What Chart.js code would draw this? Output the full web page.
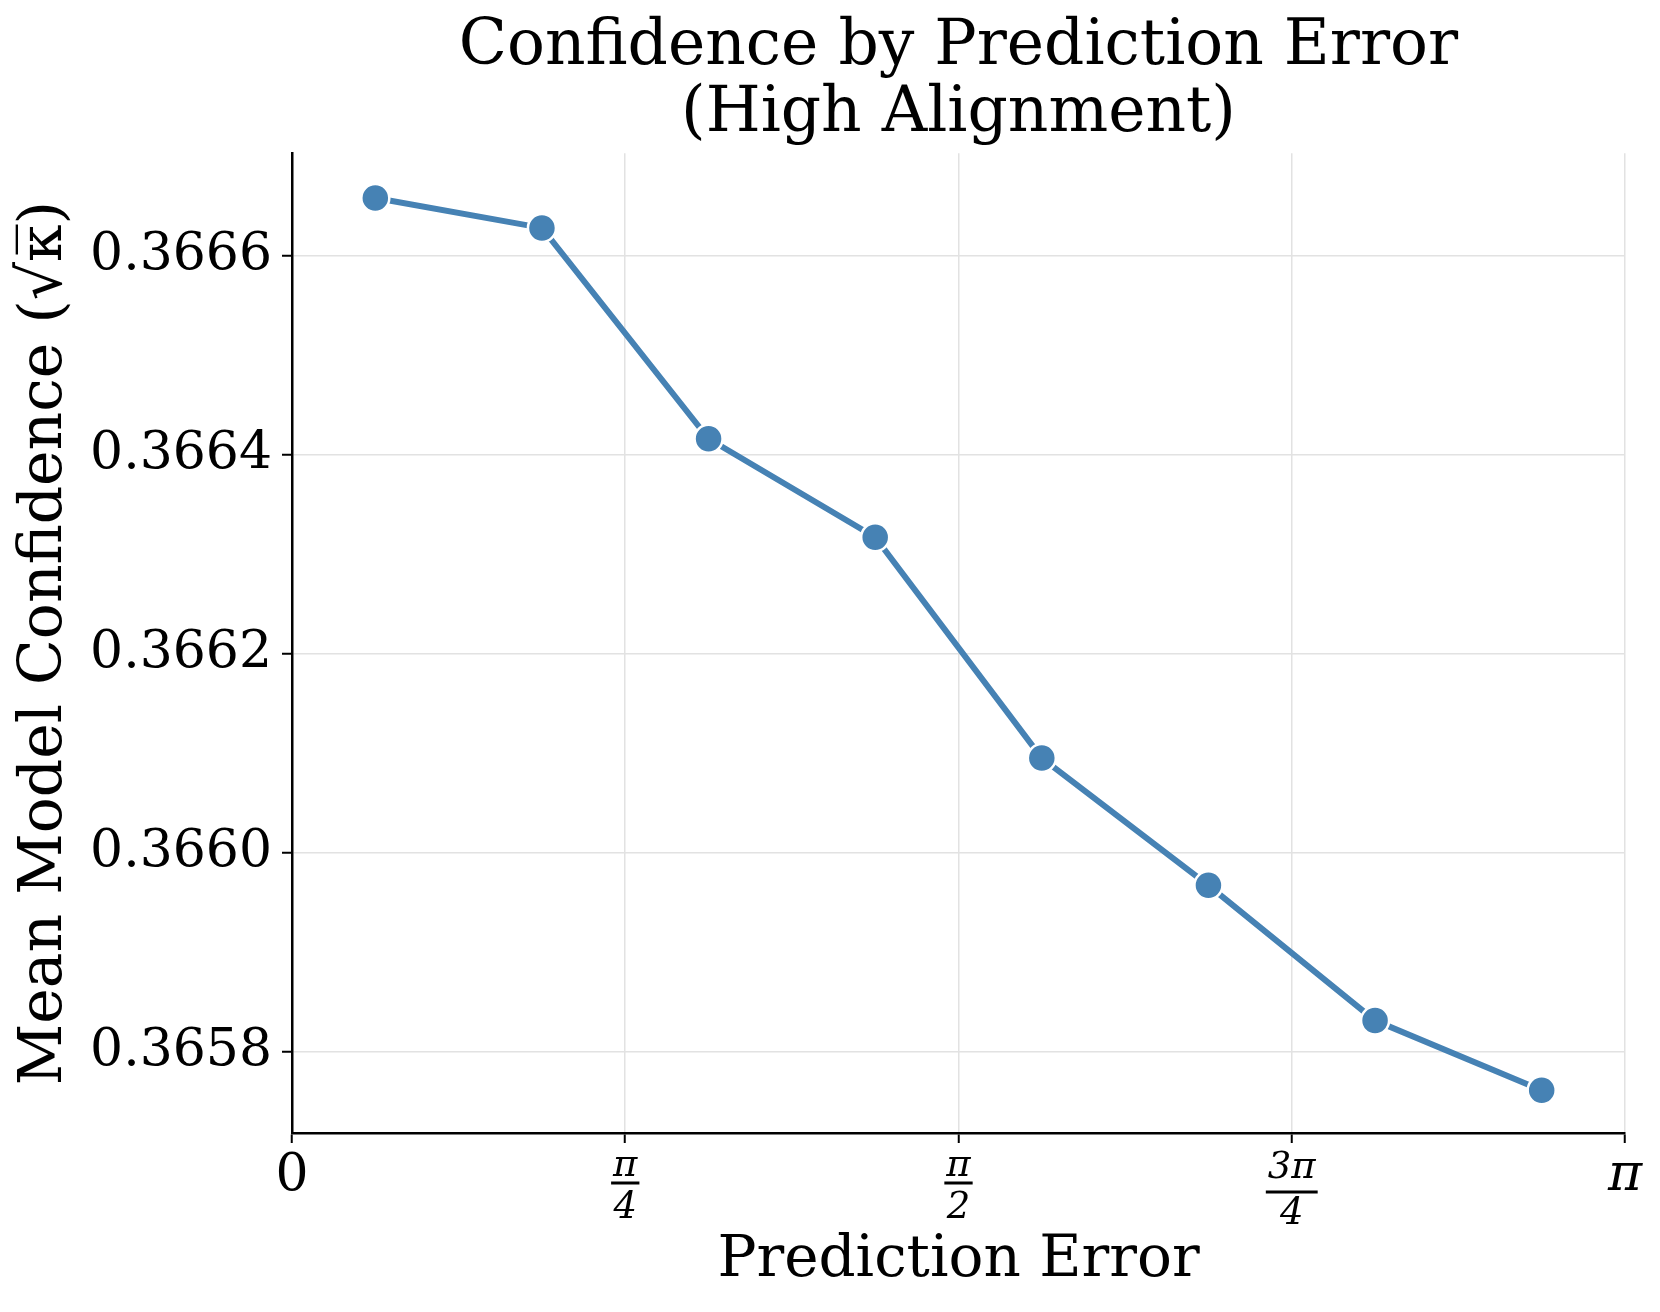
<!DOCTYPE html>
<html><head><meta charset="utf-8">
<script src="https://cdn.jsdelivr.net/npm/chart.js@4/dist/chart.umd.min.js"></script>
<style>html,body{margin:0;padding:0;background:#fff}#wrap{width:1660px;height:1312px}</style>
</head><body><div id="wrap"><canvas id="c" width="1660" height="1312"></canvas></div>
<script>
// ---- data ----
const titleLines = ['Confidence by Prediction Error', '(High Alignment)'];
const xAxisTitle = 'Prediction Error';
const yAxisTitle = 'Mean Model Confidence (\u221A\u03BA\u0305)';
const errorBins = [0.19635, 0.58905, 0.98175, 1.37445, 1.76715, 2.15984, 2.55254, 2.94524];
const confidence = [0.366658, 0.366628, 0.366416, 0.366317, 0.366095, 0.365967, 0.365831, 0.365761];
const xTickValues = [0, 0.785398, 1.570796, 2.356194, 3.141593];
const xTickLabels = ['0', ['\u03C0', '4'], ['\u03C0', '2'], ['3\u03C0', '4'], '\u03C0'];
const yTickValues = [0.3658, 0.3660, 0.3662, 0.3664, 0.3666];
const yTickLabels = ['0.3658', '0.3660', '0.3662', '0.3664', '0.3666'];
const xRange = [0, 3.141593];
const yRange = [0.365718, 0.366703];

// ---- style ----
const FAM = "'DejaVu Serif', serif";
const LINE = '#4682b4';

const fractionBars = {
  id: 'fractionBars',
  afterDraw(chart) {
    const s = chart.scales.x, ctx = chart.ctx;
    ctx.save();
    ctx.strokeStyle = '#000';
    ctx.lineWidth = 3;
    xTickLabels.forEach((lab, i) => {
      if (!Array.isArray(lab)) return;
      const x = s.getPixelForValue(xTickValues[i]);
      ctx.font = 'italic 37px ' + FAM;
      const w = ctx.measureText(lab[0]).width + 4;
      const y = s.top + (lab[0].length > 1 ? 59 : 50);
      ctx.beginPath();
      ctx.moveTo(x - w / 2, y);
      ctx.lineTo(x + w / 2, y);
      ctx.stroke();
    });
    ctx.restore();
  }
};

const titleOnPlot = {
  id: 'titleOnPlot',
  afterLayout(chart) {
    const t = chart.titleBlock;
    if (t) {
      t.left = chart.chartArea.left;
      t.right = chart.chartArea.right;
      t.width = t.right - t.left;
    }
  }
};

new Chart(document.getElementById('c'), {
  type: 'line',
  data: {
    datasets: [{
      data: errorBins.map((x, i) => ({ x: x, y: confidence[i] })),
      borderColor: LINE,
      backgroundColor: LINE,
      borderWidth: 6,
      pointRadius: 14,
      pointBackgroundColor: LINE,
      pointBorderColor: '#fff',
      pointBorderWidth: 2.5,
      tension: 0,
      fill: false
    }]
  },
  plugins: [fractionBars, titleOnPlot],
  options: {
    responsive: false,
    devicePixelRatio: 1,
    animation: false,
    layout: { padding: { left: 0, right: 35, top: 0, bottom: 0 } },
    plugins: {
      legend: { display: false },
      tooltip: { enabled: false },
      title: {
        display: true,
        text: titleLines,
        color: '#000',
        font: { family: FAM, size: 63, weight: 'normal', lineHeight: 1.05 },
        padding: { top: 15, bottom: 6 }
      }
    },
    scales: {
      x: {
        type: 'linear',
        min: xRange[0], max: xRange[1],
        afterBuildTicks: s => { s.ticks = xTickValues.map(v => ({ value: v })); },
        afterFit: s => { s.height = 179; },
        ticks: {
          autoSkip: false, maxRotation: 0, color: '#000', padding: 2,
          callback: (v, i) => xTickLabels[i],
          font: ctx => {
            const lab = xTickLabels[ctx.index];
            if (Array.isArray(lab)) return { family: FAM, size: 37, style: 'italic', lineHeight: (lab[0].length > 1 ? 46 : 42) / 37 };
            if (lab === '0') return { family: FAM, size: 52, lineHeight: 1.2 };
            return { family: FAM, size: 52, style: 'italic', lineHeight: 1.2 };
          }
        },
        grid: { color: '#e2e2e2', lineWidth: 1.5, tickColor: '#000', tickLength: 10, tickWidth: 2 },
        border: { color: '#000', width: 2.5 },
        title: { display: true, text: xAxisTitle, color: '#000', font: { family: FAM, size: 58, lineHeight: 1.2 }, padding: { top: 0, bottom: 16 } }
      },
      y: {
        type: 'linear',
        min: yRange[0], max: yRange[1],
        afterBuildTicks: s => { s.ticks = yTickValues.map(v => ({ value: v })); },
        afterFit: s => { s.width = 292; },
        ticks: {
          color: '#000', padding: 10,
          callback: (v, i) => yTickLabels[i],
          font: { family: FAM, size: 52 }
        },
        grid: { color: '#e2e2e2', lineWidth: 1.5, tickColor: '#000', tickLength: 10, tickWidth: 2 },
        border: { color: '#000', width: 2.5 },
        title: { display: true, text: yAxisTitle, color: '#000', font: { family: FAM, size: 60, lineHeight: 1.2 }, padding: { top: 9, bottom: 0 } }
      }
    }
  }
});
</script></body></html>
